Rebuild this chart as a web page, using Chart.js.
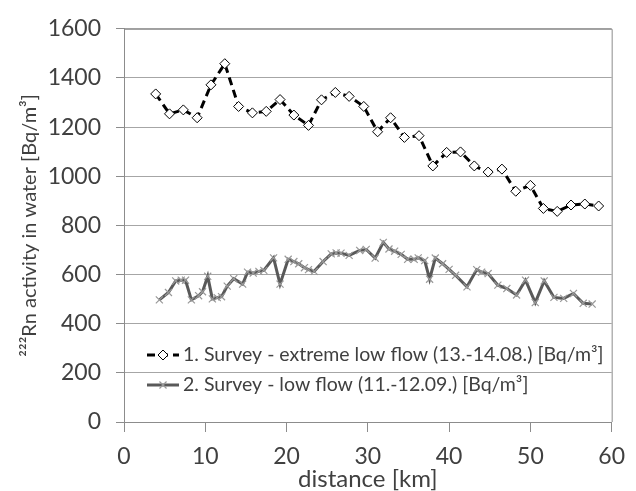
<!DOCTYPE html>
<html>
<head>
<meta charset="utf-8">
<script src="https://cdn.jsdelivr.net/npm/chart.js@4/dist/chart.umd.min.js"></script>
<style>
  html, body { margin: 0; padding: 0; background: #fff; }
  #wrap { width: 636px; height: 491px; }
</style>
</head>
<body>
<div id="wrap"><canvas id="radon"></canvas></div>
<script>
// survey 1 - extreme low flow (13.-14.08.)
const s1Km = [3.9, 5.6, 7.3, 9.0, 10.7, 12.4, 14.1, 15.8, 17.5, 19.2, 20.9, 22.7, 24.3,
  26.0, 27.7, 29.5, 31.2, 32.8, 34.5, 36.3, 38.0, 39.7, 41.4, 43.1, 44.8, 46.5, 48.2,
  50.0, 51.6, 53.3, 55.0, 56.7, 58.4];
const s1Rn = [1335, 1254, 1270, 1238, 1372, 1458, 1284, 1258, 1264, 1312, 1249, 1207, 1311,
  1341, 1325, 1284, 1181, 1238, 1158, 1165, 1042, 1097, 1099, 1042, 1017, 1029, 939,
  963, 869, 857, 883, 887, 879];

// survey 2 - low flow (11.-12.09.)
const s2Km = [4.35, 5.47, 6.36, 7.04, 7.57, 8.29, 9.18, 9.66, 10.3, 10.87, 11.47, 12.0, 12.7,
  13.5, 14.6, 15.2, 15.9, 16.6, 17.2, 18.4, 19.2, 20.2, 20.9, 21.5, 22.2, 22.7, 23.4,
  24.5, 25.5, 26.1, 26.7, 27.7, 29.0, 29.8, 30.9, 31.9, 32.6, 33.3, 34.1, 34.9, 35.7,
  36.2, 37.0, 37.6, 38.3, 39.2, 40.0, 40.8, 42.2, 43.4, 44.0, 44.8, 46.0, 47.1, 48.3,
  49.4, 50.6, 51.7, 52.9, 54.1, 55.3, 56.5, 57.6];
const s2Rn = [497, 527, 574, 577, 577, 497, 514, 530, 593, 501, 506, 510, 553,
  583, 561, 610, 606, 613, 617, 668, 561, 662, 653, 644, 628, 620, 613,
  653, 684, 688, 687, 678, 698, 702, 667, 731, 704, 695, 682, 662, 662,
  668, 657, 581, 667, 644, 621, 597, 550, 620, 610, 604, 557, 543, 517,
  577, 486, 574, 507, 503, 523, 483, 480];

const seriesNames = [
  '1. Survey - extreme low flow (13.-14.08.) [Bq/m³]',
  '2. Survey - low flow (11.-12.09.) [Bq/m³]'
];
const yTicks = [0, 200, 400, 600, 800, 1000, 1200, 1400, 1600];
const xTicks = [0, 10, 20, 30, 40, 50, 60];

const FONT = 'Lato, "Open Sans", sans-serif';
const TEXT = '#404040';

const pairs = (xs, ys) => xs.map((x, i) => ({ x: x, y: ys[i] }));

// frame around the plot area (top and right edges)
const frame = {
  id: 'frame',
  beforeDatasetsDraw(chart) {
    const { ctx, chartArea: a } = chart;
    ctx.save();
    ctx.strokeStyle = '#8c8c8c';
    ctx.lineWidth = 1;
    ctx.beginPath();
    ctx.moveTo(a.left, a.top + 0.5);
    ctx.lineTo(a.right + 0.5, a.top + 0.5);
    ctx.lineTo(a.right + 0.5, a.bottom);
    ctx.stroke();
    ctx.restore();
  }
};

// legend drawn inside the plot, lower left
const innerLegend = {
  id: 'innerLegend',
  afterDatasetsDraw(chart) {
    const { ctx } = chart;
    const x0 = 147, x1 = 179, tx = 183;
    const rows = [355, 385];
    ctx.save();
    ctx.font = '19.5px ' + FONT;
    ctx.textBaseline = 'middle';
    chart.data.datasets.forEach((ds, i) => {
      const y = rows[i];
      ctx.beginPath();
      ctx.setLineDash(ds.borderDash || []);
      ctx.strokeStyle = ds.borderColor;
      ctx.lineWidth = ds.borderWidth;
      ctx.moveTo(x0, y);
      ctx.lineTo(x1, y);
      ctx.stroke();
      ctx.setLineDash([]);
      ctx.fillStyle = ds.pointBackgroundColor;
      ctx.strokeStyle = ds.pointBorderColor;
      ctx.lineWidth = ds.pointBorderWidth;
      Chart.helpers.drawPoint(ctx, {
        pointStyle: ds.pointStyle,
        radius: ds.pointRadius,
        borderWidth: ds.pointBorderWidth,
        rotation: 0
      }, (x0 + x1) / 2, y);
      ctx.fillStyle = TEXT;
      ctx.textAlign = 'left';
      ctx.fillText(ds.label, tx, y);
    });
    ctx.restore();
  }
};

new Chart(document.getElementById('radon'), {
  type: 'line',
  data: {
    datasets: [{
      label: seriesNames[0],
      data: pairs(s1Km, s1Rn),
      borderColor: '#000000',
      borderWidth: 3,
      borderDash: [8, 5],
      pointStyle: 'rectRot',
      pointRadius: 5,
      pointBackgroundColor: '#ffffff',
      pointBorderColor: '#000000',
      pointBorderWidth: 1,
      tension: 0
    }, {
      label: seriesNames[1],
      data: pairs(s2Km, s2Rn),
      borderColor: '#595959',
      borderWidth: 3,
      pointStyle: 'crossRot',
      pointRadius: 5,
      pointBackgroundColor: '#999999',
      pointBorderColor: '#999999',
      pointBorderWidth: 1.2,
      tension: 0
    }]
  },
  options: {
    responsive: true,
    maintainAspectRatio: false,
    animation: false,
    layout: { padding: { top: 24, right: 14, left: 0, bottom: 0 } },
    plugins: {
      legend: { display: false },
      tooltip: { enabled: false }
    },
    scales: {
      x: {
        type: 'linear',
        min: 0,
        max: 60,
        afterBuildTicks: s => { s.ticks = xTicks.map(v => ({ value: v })); },
        afterFit: s => { s.height = 69; },
        grid: { drawOnChartArea: false, drawTicks: true, tickLength: 10, color: '#8c8c8c' },
        border: { color: '#8c8c8c' },
        ticks: {
          color: TEXT, font: { family: FONT, size: 23 }, padding: 11, maxRotation: 0,
          callback: v => String(v)
        },
        title: {
          display: true,
          text: 'distance [km]',
          color: TEXT,
          font: { family: FONT, size: 24, lineHeight: 1.0 },
          padding: { top: 0, bottom: 0 }
        }
      },
      y: {
        min: 0,
        max: 1600,
        afterBuildTicks: s => { s.ticks = yTicks.map(v => ({ value: v })); },
        afterFit: s => { s.width = 124; },
        grid: { color: '#a6a6a6', tickLength: 8, tickColor: '#8c8c8c' },
        border: { color: '#8c8c8c' },
        ticks: {
          color: TEXT, font: { family: FONT, size: 23 }, padding: 15,
          callback: v => String(v)
        },
        title: {
          display: true,
          text: '²²²Rn activity in water [Bq/m³]',
          color: TEXT,
          font: { family: FONT, size: 20, lineHeight: 1.2 },
          padding: { top: 18, bottom: 0 }
        }
      }
    }
  },
  plugins: [frame, innerLegend]
});
</script>
</body>
</html>
